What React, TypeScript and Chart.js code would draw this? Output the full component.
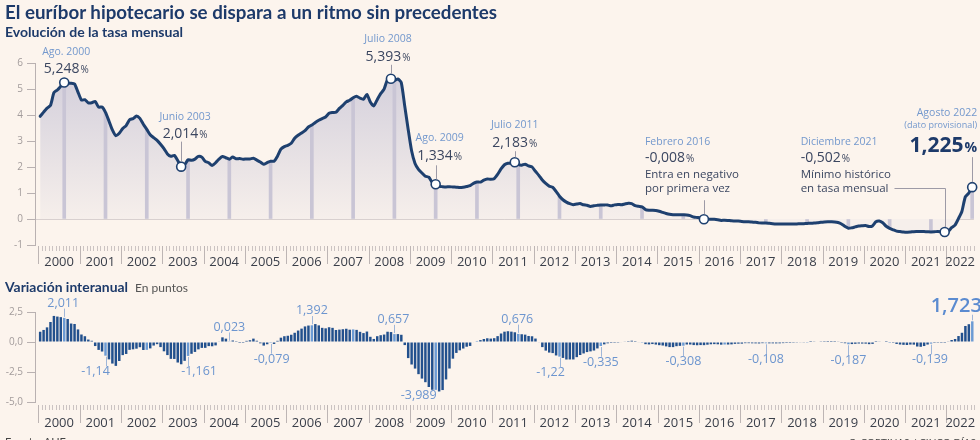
import React, { useEffect, useRef } from 'react';
import { Chart, registerables } from 'chart.js';

Chart.register(...registerables);

const BG = '#fcf4ed';
const FONT = '"Open Sans", "DejaVu Sans", sans-serif';
const NAVY = '#1d3a6a';
const LINE = '#1e406f';
const DATE_BLUE = '#7398cd';
const VALUE_GREY = '#3b4660';
const BAR_DARK = '#22508d';
const BAR_LIGHT = '#6c9bd4';
const NOTE_BLUE = '#6c95cf';
const AXIS = '#b9b1b1';
const TICK_TXT = '#a39c9c';
const YEAR_TXT = '#3a3f4a';

const years = ['2000', '2001', '2002', '2003', '2004', '2005', '2006', '2007', '2008', '2009', '2010', '2011',
  '2012', '2013', '2014', '2015', '2016', '2017', '2018', '2019', '2020', '2021', '2022'];

// Euríbor, tasa mensual (%), enero 2000 - agosto 2022
const tasaMensual = [
  3.949, 4.109, 4.266, 4.369, 4.857, 4.962, 5.105, 5.248, 5.219, 5.223, 5.193, 4.881,
  4.574, 4.591, 4.470, 4.471, 4.520, 4.303, 4.310, 4.100, 3.772, 3.426, 3.203, 3.298,
  3.481, 3.594, 3.816, 3.860, 3.963, 3.869, 3.645, 3.447, 3.240, 3.130, 3.022, 2.873,
  2.705, 2.504, 2.411, 2.447, 2.252, 2.014, 2.076, 2.279, 2.258, 2.303, 2.410, 2.381,
  2.216, 2.163, 2.055, 2.163, 2.302, 2.402, 2.356, 2.302, 2.384, 2.316, 2.325, 2.301,
  2.312, 2.310, 2.336, 2.267, 2.193, 2.103, 2.168, 2.223, 2.220, 2.414, 2.684, 2.783,
  2.833, 2.914, 3.105, 3.221, 3.308, 3.401, 3.539, 3.615, 3.715, 3.799, 3.864, 3.921,
  4.064, 4.094, 4.106, 4.253, 4.373, 4.505, 4.564, 4.666, 4.725, 4.647, 4.607, 4.793,
  4.498, 4.349, 4.590, 4.820, 4.994, 5.361, 5.393, 5.323, 5.384, 5.248, 4.350, 3.452,
  2.622, 2.135, 1.909, 1.771, 1.644, 1.610, 1.412, 1.334, 1.261, 1.243, 1.231, 1.242,
  1.232, 1.225, 1.215, 1.225, 1.249, 1.281, 1.373, 1.421, 1.420, 1.495, 1.541, 1.526,
  1.550, 1.714, 1.924, 2.086, 2.147, 2.144, 2.183, 2.097, 2.067, 2.110, 2.044, 2.004,
  1.837, 1.678, 1.499, 1.368, 1.266, 1.219, 1.061, 0.877, 0.740, 0.650, 0.588, 0.549,
  0.575, 0.594, 0.545, 0.528, 0.484, 0.507, 0.525, 0.542, 0.543, 0.541, 0.506, 0.543,
  0.562, 0.549, 0.577, 0.604, 0.592, 0.513, 0.488, 0.469, 0.362, 0.338, 0.335, 0.329,
  0.298, 0.255, 0.212, 0.180, 0.165, 0.163, 0.167, 0.161, 0.154, 0.128, 0.079, 0.059,
  0.042, -0.008, -0.012, -0.010, -0.013, -0.028, -0.056, -0.048, -0.057, -0.069, -0.074, -0.080,
  -0.095, -0.106, -0.110, -0.119, -0.127, -0.149, -0.154, -0.156, -0.168, -0.180, -0.189, -0.190,
  -0.189, -0.191, -0.191, -0.190, -0.188, -0.181, -0.180, -0.169, -0.166, -0.154, -0.147, -0.129,
  -0.116, -0.108, -0.109, -0.112, -0.134, -0.190, -0.283, -0.356, -0.339, -0.304, -0.272, -0.261,
  -0.253, -0.288, -0.266, -0.108, -0.081, -0.147, -0.279, -0.358, -0.415, -0.466, -0.481, -0.497,
  -0.505, -0.501, -0.487, -0.484, -0.481, -0.484, -0.491, -0.498, -0.492, -0.477, -0.487, -0.502,
  -0.477, -0.335, -0.237, 0.013, 0.287, 0.852, 0.992, 1.225,
];

// Variación interanual (puntos), enero 2000 - agosto 2022
const variacionInteranual = [
  0.855, 1.005, 1.220, 1.669, 2.173, 2.119, 2.072, 2.011, 1.919, 1.539, 1.503, 1.048,
  0.625, 0.482, 0.204, 0.102, -0.337, -0.659, -0.795, -1.140, -1.447, -1.797, -1.990, -1.583,
  -1.093, -0.997, -0.654, -0.611, -0.557, -0.434, -0.665, -0.653, -0.532, -0.296, -0.181, -0.425,
  -0.776, -1.090, -1.405, -1.413, -1.711, -1.855, -1.569, -1.161, -0.982, -0.827, -0.612, -0.492,
  -0.489, -0.341, -0.356, -0.284, 0.050, 0.388, 0.280, 0.023, 0.126, 0.013, -0.085, -0.080,
  0.096, 0.147, 0.281, 0.104, -0.109, -0.299, -0.188, -0.079, -0.164, 0.098, 0.359, 0.482,
  0.521, 0.604, 0.769, 0.954, 1.115, 1.298, 1.371, 1.392, 1.495, 1.385, 1.180, 1.138,
  1.231, 1.180, 1.001, 1.032, 1.065, 1.104, 1.025, 1.051, 1.010, 0.848, 0.743, 0.872,
  0.434, 0.255, 0.484, 0.567, 0.621, 0.856, 0.829, 0.657, 0.659, 0.601, -0.257, -1.341,
  -1.876, -2.214, -2.681, -3.049, -3.350, -3.751, -3.981, -3.989, -4.123, -4.005, -3.119, -2.210,
  -1.390, -0.910, -0.694, -0.546, -0.395, -0.329, -0.039, 0.087, 0.159, 0.252, 0.310, 0.284,
  0.318, 0.489, 0.709, 0.861, 0.898, 0.863, 0.810, 0.676, 0.647, 0.615, 0.503, 0.478,
  0.287, -0.036, -0.425, -0.718, -0.881, -0.925, -1.122, -1.220, -1.327, -1.460, -1.456, -1.455,
  -1.262, -1.084, -0.954, -0.840, -0.782, -0.712, -0.536, -0.335, -0.197, -0.109, -0.082, -0.006,
  -0.013, -0.045, 0.032, 0.076, 0.108, 0.006, -0.037, -0.073, -0.181, -0.203, -0.171, -0.214,
  -0.264, -0.294, -0.365, -0.424, -0.427, -0.350, -0.321, -0.308, -0.208, -0.210, -0.256, -0.270,
  -0.256, -0.263, -0.224, -0.190, -0.178, -0.191, -0.223, -0.209, -0.211, -0.197, -0.153, -0.139,
  -0.137, -0.098, -0.098, -0.109, -0.114, -0.121, -0.098, -0.108, -0.111, -0.111, -0.115, -0.110,
  -0.094, -0.085, -0.081, -0.071, -0.061, -0.032, -0.026, -0.013, 0.002, 0.026, 0.042, 0.061,
  0.073, 0.083, 0.082, 0.078, 0.054, -0.009, -0.103, -0.187, -0.173, -0.150, -0.125, -0.132,
  -0.137, -0.180, -0.157, 0.004, 0.053, 0.043, 0.004, -0.002, -0.076, -0.162, -0.209, -0.236,
  -0.252, -0.213, -0.221, -0.376, -0.400, -0.337, -0.212, -0.139, -0.077, -0.011, -0.006, -0.005,
  0.028, 0.166, 0.250, 0.497, 0.768, 1.336, 1.483, 1.723,
];

const tasaTicks = [-1, 0, 1, 2, 3, 4, 5, 6];
const variacionTicks = ['-5,0', '-2,5', '0,0', '2,5'];

// Anotaciones del gráfico superior
const topNoteIdx = [7, 41, 102, 115, 138, 193, 263, 271];
const topNoteDates = ['Ago. 2000', 'Junio 2003', 'Julio 2008', 'Ago. 2009', 'Julio 2011', 'Febrero 2016', 'Diciembre 2021', 'Agosto 2022'];
const topNoteValues = ['5,248', '2,014', '5,393', '1,334', '2,183', '-0,008', '-0,502', '1,225'];
const topNoteExtra = [[], [], [], [], [], ['Entra en negativo', 'por primera vez'], ['Mínimo histórico', 'en tasa mensual'], []];
const topNoteSub = ['', '', '', '', '', '', '', '(dato provisional)'];

// Anotaciones del gráfico inferior
const varNoteIdx = [7, 19, 43, 55, 67, 79, 103, 115, 139, 151, 163, 187, 211, 235, 259, 271];
const varNoteLabels = ['2,011', '-1,14', '-1,161', '0,023', '-0,079', '1,392', '0,657', '-3,989', '0,676', '-1,22', '-0,335', '-0,308', '-0,108', '-0,187', '-0,139', '1,723'];

// Layout (offsets from the anchored point, in px)
type TopLayout = { align: CanvasTextAlign; dx: number; dateDy: number; valueDy: number; subDy?: number; extraDy?: number[]; leader?: number[]; elbow?: number; big?: boolean };
const topNoteLayout: TopLayout[] = [
  { align: 'center', dx: 2, dateDy: -28, valueDy: -10 },
  { align: 'center', dx: 4, dateDy: -47, valueDy: -29, leader: [-25, -5] },
  { align: 'center', dx: -3, dateDy: -37, valueDy: -18, leader: [-14, -5] },
  { align: 'center', dx: 4, dateDy: -43, valueDy: -24, leader: [-19, -5] },
  { align: 'center', dx: 0, dateDy: -34, valueDy: -15, leader: [-11, -5] },
  { align: 'left', dx: -59, dateDy: -74, valueDy: -57, extraDy: [-41, -27], leader: [-19, -5] },
  { align: 'left', dx: -144, dateDy: -87, valueDy: -70, extraDy: [-54, -40], elbow: -44 },
  { align: 'right', dx: 5, dateDy: -71, subDy: -59, valueDy: -35, big: true, leader: [-30, -5] },
];
const varNoteLayout = [
  { dx: -1 }, { dx: -10 }, { dx: 11 }, { dx: 0 }, { dx: 1 }, { dx: 0 }, { dx: -1 },
  { dx: -17, dy: 6, noLeader: true }, { dx: -1 }, { dx: -9 }, { dx: 0 }, { dx: 0 }, { dx: 0 },
  { dx: 0 }, { dx: -1 }, { dx: -16, dy: -15, big: true },
];

const monthCount = tasaMensual.length;
const X_MIN = -1.5;
const X_MAX = monthCount - 0.5;

function drawTimeAxis(chart: any, top: number, labelOffset: number) {
  const { ctx } = chart;
  const x = chart.scales.x;
  ctx.save();
  ctx.lineWidth = 1;
  ctx.strokeStyle = '#cbc3c2';
  ctx.beginPath();
  for (let n = 0; n <= monthCount; n++) {
    const major = n % 12 === 0 && n < monthCount;
    if (major) continue;
    const px = Math.round(x.getPixelForValue(n - 0.5)) + 0.5;
    ctx.moveTo(px, top);
    ctx.lineTo(px, top + 5);
  }
  ctx.stroke();
  ctx.strokeStyle = '#bdb5b4';
  ctx.beginPath();
  for (let n = 0; n < monthCount; n += 12) {
    const px = Math.round(x.getPixelForValue(n - 0.5)) + 0.5;
    ctx.moveTo(px, top);
    ctx.lineTo(px, top + 18);
  }
  ctx.stroke();
  ctx.fillStyle = YEAR_TXT;
  ctx.font = `13px ${FONT}`;
  ctx.textAlign = 'center';
  ctx.textBaseline = 'middle';
  years.forEach((yr, k) => {
    const a = 12 * k - 0.5;
    const b = Math.min(12 * k + 11.5, monthCount - 0.5);
    ctx.fillText(yr, x.getPixelForValue((a + b) / 2), top + labelOffset);
  });
  ctx.restore();
}

function drawValue(ctx: CanvasRenderingContext2D, num: string, x: number, y: number, align: CanvasTextAlign, numFont: string, pctFont: string, color: string) {
  ctx.font = numFont;
  const w1 = ctx.measureText(num).width;
  ctx.font = pctFont;
  const w2 = ctx.measureText('%').width;
  const total = w1 + w2 + 1;
  const left = align === 'center' ? x - total / 2 : align === 'right' ? x - total : x;
  ctx.fillStyle = color;
  ctx.textAlign = 'left';
  ctx.textBaseline = 'alphabetic';
  ctx.font = numFont;
  ctx.fillText(num, left, y);
  ctx.font = pctFont;
  ctx.fillText('%', left + w1 + 1, y);
}

const topPlugin = {
  id: 'topDecor',
  afterDraw(chart: any) {
    const { ctx } = chart;
    const x = chart.scales.x;
    const y = chart.scales.y;
    drawTimeAxis(chart, chart.chartArea.bottom + 1, 16);
    ctx.save();
    topNoteIdx.forEach((idx, j) => {
      const lay = topNoteLayout[j];
      const px = x.getPixelForValue(idx);
      const py = y.getPixelForValue(tasaMensual[idx]);
      const tx = px + lay.dx;
      ctx.strokeStyle = '#9d9aa6';
      ctx.lineWidth = 1;
      if (lay.leader) {
        ctx.beginPath();
        ctx.moveTo(Math.round(px) + 0.5, py + lay.leader[0]);
        ctx.lineTo(Math.round(px) + 0.5, py + lay.leader[1]);
        ctx.stroke();
      }
      ctx.fillStyle = DATE_BLUE;
      ctx.font = `10.5px ${FONT}`;
      ctx.textAlign = lay.align;
      ctx.textBaseline = 'alphabetic';
      ctx.fillText(topNoteDates[j], tx, py + lay.dateDy);
      if (topNoteSub[j] && lay.subDy !== undefined) {
        ctx.font = `9px ${FONT}`;
        ctx.fillText(topNoteSub[j], tx, py + lay.subDy);
      }
      if (lay.big) {
        drawValue(ctx, topNoteValues[j], tx, py + lay.valueDy, lay.align, `bold 21px ${FONT}`, `bold 14px ${FONT}`, NAVY);
      } else {
        drawValue(ctx, topNoteValues[j], tx, py + lay.valueDy, lay.align, `14px ${FONT}`, `10px ${FONT}`, VALUE_GREY);
      }
      const extra = topNoteExtra[j];
      if (extra.length && lay.extraDy) {
        ctx.font = `11.5px ${FONT}`;
        ctx.fillStyle = VALUE_GREY;
        ctx.textAlign = lay.align;
        extra.forEach((t, e) => ctx.fillText(t, tx, py + lay.extraDy![e]));
        if (lay.elbow !== undefined) {
          const w = ctx.measureText(extra[extra.length - 1]).width;
          const ey = Math.round(py + lay.elbow) + 0.5;
          const ex = Math.round(px) + 0.5;
          ctx.beginPath();
          ctx.moveTo(tx + w + 6, ey);
          ctx.lineTo(ex, ey);
          ctx.lineTo(ex, py - 5);
          ctx.stroke();
        }
      }
    });
    ctx.restore();
  },
};

const bottomPlugin = {
  id: 'bottomDecor',
  afterDraw(chart: any) {
    const { ctx } = chart;
    const x = chart.scales.x;
    const y = chart.scales.y;
    drawTimeAxis(chart, chart.chartArea.bottom + 3, 18);
    ctx.save();
    varNoteIdx.forEach((idx, j) => {
      const lay: any = varNoteLayout[j];
      const v = variacionInteranual[idx];
      const bx = x.getPixelForValue(idx);
      const by = y.getPixelForValue(v);
      const pos = v >= 0;
      const cy = by + (lay.dy !== undefined ? lay.dy : pos ? -14.5 : 16);
      const size = lay.big ? 20 : 12.5;
      ctx.font = lay.big ? `600 ${size}px ${FONT}` : `${size}px ${FONT}`;
      ctx.fillStyle = lay.big ? '#5b8bd0' : NOTE_BLUE;
      ctx.textAlign = 'center';
      ctx.textBaseline = 'middle';
      ctx.fillText(varNoteLabels[j], bx + lay.dx, cy);
      if (!lay.noLeader) {
        const half = size * 0.42;
        const ys = pos ? cy + half : cy - half;
        const ye = pos ? by - 1 : by + 1;
        if (Math.abs(ye - ys) > 1.5) {
          ctx.strokeStyle = '#9fb6d8';
          ctx.lineWidth = 1;
          ctx.beginPath();
          ctx.moveTo(Math.round(bx) + 0.5, ys);
          ctx.lineTo(Math.round(bx) + 0.5, ye);
          ctx.stroke();
        }
      }
    });
    ctx.restore();
  },
};

function yAxisBase(min: number, max: number, step: number, fmt: (v: number) => string, zeroLine: boolean) {
  return {
    min,
    max,
    ticks: {
      stepSize: step,
      color: TICK_TXT,
      font: { family: FONT, size: 10 },
      padding: 4,
      callback: (v: any) => fmt(Number(v)),
    },
    grid: {
      drawOnChartArea: true,
      color: (c: any) => (zeroLine && c.tick && c.tick.value === 0 ? '#d8d0cf' : 'rgba(0,0,0,0)'),
      tickColor: AXIS,
      tickLength: 8,
    },
    border: { display: true, color: AXIS },
    afterFit: (s: any) => {
      s.width = 35;
    },
  };
}

export default function App() {
  const topRef = useRef<HTMLCanvasElement>(null);
  const botRef = useRef<HTMLCanvasElement>(null);

  useEffect(() => {
    const lineData = tasaMensual.map((v, i) => ({ x: i, y: v }));
    const dropData = years
      .map((_, k) => 12 * k + 7)
      .filter((i) => i < monthCount)
      .map((i) => ({ x: i, y: tasaMensual[i] }));
    const barData = variacionInteranual.map((v, i) => ({ x: i, y: v }));

    const top = new Chart(topRef.current as HTMLCanvasElement, {
      type: 'line',
      data: {
        datasets: [
          {
            type: 'line',
            data: lineData,
            borderColor: LINE,
            borderWidth: 3,
            borderJoinStyle: 'round',
            borderCapStyle: 'round',
            tension: 0.2,
            fill: 'origin',
            clip: false,
            backgroundColor: (c: any) => {
              const { chart } = c;
              if (!chart.chartArea) return 'rgba(0,0,0,0)';
              const ys = chart.scales.y;
              const g = chart.ctx.createLinearGradient(0, ys.getPixelForValue(5.5), 0, ys.getPixelForValue(0));
              g.addColorStop(0, '#d4d0dc');
              g.addColorStop(1, '#f6efeb');
              return g;
            },
            pointRadius: (c: any) => (topNoteIdx.includes(c.dataIndex) ? 4.5 : 0),
            pointBackgroundColor: '#ffffff',
            pointBorderColor: LINE,
            pointBorderWidth: 1.6,
            order: 0,
          } as any,
          {
            type: 'bar',
            data: dropData,
            backgroundColor: '#c9c5d5',
            barThickness: 3,
            order: 1,
          } as any,
        ],
      },
      options: {
        responsive: false,
        animation: false,
        events: [],
        layout: { padding: { top: 63, bottom: 30, left: 0, right: 6 } },
        plugins: {
          legend: { display: false },
          tooltip: { enabled: false },
          filler: { drawTime: 'beforeDatasetsDraw' } as any,
        },
        scales: {
          x: { type: 'linear', min: X_MIN, max: X_MAX, display: false, offset: false, grid: { offset: false } } as any,
          y: {
            ...yAxisBase(tasaTicks[0], tasaTicks[tasaTicks.length - 1], 1, (v) => String(v), true),
          } as any,
        },
      },
      plugins: [topPlugin],
    });

    const bottom = new Chart(botRef.current as HTMLCanvasElement, {
      type: 'bar',
      data: {
        datasets: [
          {
            data: barData,
            backgroundColor: (c: any) => (c.dataIndex % 12 === 7 ? BAR_LIGHT : BAR_DARK),
            barPercentage: 0.72,
            categoryPercentage: 1,
            borderWidth: 0,
          } as any,
        ],
      },
      options: {
        responsive: false,
        animation: false,
        events: [],
        layout: { padding: { top: 37, bottom: 38, left: 0, right: 6 } },
        plugins: { legend: { display: false }, tooltip: { enabled: false } },
        scales: {
          x: { type: 'linear', min: X_MIN, max: X_MAX, display: false, offset: false, grid: { offset: false } } as any,
          y: {
            ...yAxisBase(-5, 2.5, 2.5, (v) => {
              const s = v.toFixed(1).replace('.', ',');
              return variacionTicks.includes(s) ? s : '';
            }, false),
          } as any,
        },
      },
      plugins: [bottomPlugin],
    });

    return () => {
      top.destroy();
      bottom.destroy();
    };
  }, []);

  return (
    <div style={{ position: 'fixed', left: 0, top: 0, width: 980, height: 440, background: BG, overflow: 'hidden' }}>
      <canvas ref={topRef} width={980} height={275} style={{ position: 'absolute', left: 0, top: 0, display: 'block' }} />
      <canvas ref={botRef} width={980} height={165} style={{ position: 'absolute', left: 0, top: 275, display: 'block' }} />
      <svg width={980} height={440} style={{ position: 'absolute', left: 0, top: 0, pointerEvents: 'none' }}>
        <text x={5} y={19} fontFamily="Lato, 'Open Sans', sans-serif" fontWeight={700} fontSize={19} fill={NAVY} textLength={492} lengthAdjust="spacingAndGlyphs">
          El euríbor hipotecario se dispara a un ritmo sin precedentes
        </text>
        <text x={5} y={37} fontFamily="Lato, 'Open Sans', sans-serif" fontWeight={700} fontSize={13.5} fill={NAVY} textLength={178} lengthAdjust="spacingAndGlyphs">
          Evolución de la tasa mensual
        </text>
        <text x={5} y={292} fontFamily="Lato, 'Open Sans', sans-serif" fontWeight={700} fontSize={13.5} fill={NAVY} textLength={123} lengthAdjust="spacingAndGlyphs">
          Variación interanual
        </text>
        <text x={135} y={292} fontFamily="Lato, 'Open Sans', sans-serif" fontWeight={400} fontSize={12} fill="#555555" textLength={53} lengthAdjust="spacingAndGlyphs">
          En puntos
        </text>
        <text x={5} y={446} fontFamily="Lato, 'Open Sans', sans-serif" fontSize={11} fill="#444444">
          Fuente: AHE
        </text>
        <text x={976} y={446} textAnchor="end" fontFamily="Lato, 'Open Sans', sans-serif" fontSize={10} fill="#444444">
          C. CORTINAS / CINCO DÍAS
        </text>
      </svg>
    </div>
  );
}
